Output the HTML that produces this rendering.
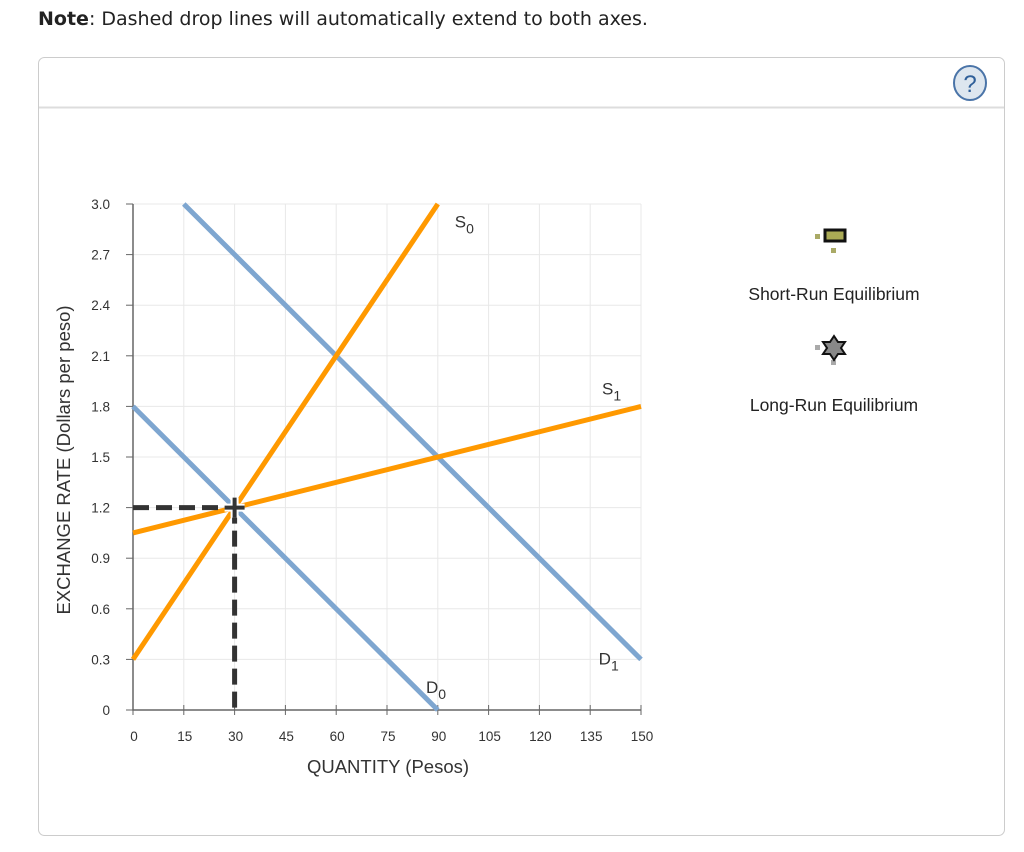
<!DOCTYPE html>
<html><head><meta charset="utf-8"><style>
body{margin:0;background:#fff;font-family:"Liberation Sans",sans-serif;}
svg{display:block}
</style></head><body>
<svg width="1024" height="852" viewBox="0 0 1024 852" xmlns="http://www.w3.org/2000/svg" font-family="Liberation Sans, sans-serif">
<text x="38" y="25" font-size="19" fill="#222" font-family="DejaVu Sans, sans-serif"><tspan font-weight="bold">Note</tspan>: Dashed drop lines will automatically extend to both axes.</text>
<rect x="38.5" y="57.5" width="966" height="778" rx="6" fill="#fff" stroke="#ccc"/>
<line x1="39" y1="107.5" x2="1004" y2="107.5" stroke="#ddd" stroke-width="2"/>
<g>
<ellipse cx="970" cy="83" rx="16" ry="17" fill="#dde6ef" stroke="#4a74a8" stroke-width="2"/>
<text x="970" y="92" font-size="24" text-anchor="middle" fill="#2f5f99">?</text>
</g>
<g id="grid"></g>
<g id="axes"></g>
<g id="lines"></g>
<g id="eq"></g>
<text x="388" y="773" font-size="18.5" text-anchor="middle" fill="#333">QUANTITY (Pesos)</text>
<text transform="translate(70,460) rotate(-90)" font-size="18.5" text-anchor="middle" fill="#333">EXCHANGE RATE (Dollars per peso)</text>
<g>
<rect x="815" y="234" width="5" height="5" fill="#aaaa66"/>
<rect x="831" y="248" width="5" height="5" fill="#aaaa66"/>
<rect x="825" y="230" width="20" height="11" fill="#aaaa55" stroke="#111" stroke-width="3"/>
<text x="834" y="300" font-size="17.5" text-anchor="middle" fill="#222">Short-Run Equilibrium</text>
</g>
<g>
<rect x="815" y="345" width="5" height="5" fill="#aaa"/>
<rect x="831" y="360" width="5" height="5" fill="#aaa"/>
<polygon points="834,336 838,342 845,342 841,348 845,354 838,354 834,360 830,354 823,354 827,348 823,342 830,342" fill="#888" stroke="#111" stroke-width="2"/>
<text x="834" y="411" font-size="17.5" text-anchor="middle" fill="#222">Long-Run Equilibrium</text>
</g>
</svg>
<script>
const xTicks=[0,15,30,45,60,75,90,105,120,135,150];
const yTicks=[0,0.3,0.6,0.9,1.2,1.5,1.8,2.1,2.4,2.7,3.0];
const yLabels=["0","0.3","0.6","0.9","1.2","1.5","1.8","2.1","2.4","2.7","3.0"];
const curveNames=["D0","D1","S0","S1"];
const curveX=[[0,90],[15,150],[0,90],[0,150]];
const curveY=[[1.8,0],[3.0,0.3],[0.3,3.0],[1.05,1.8]];
const curveLabelX=[86.5,137.5,95,138.5];
const curveLabelY=[0.1,0.27,2.86,1.87];
const eqX=[30];
const eqY=[1.2];
const NS="http://www.w3.org/2000/svg";
const X0=133,X1=641,Y0=710,Y1=204;
const sx=v=>X0+(X1-X0)*v/150, sy=v=>Y0-(Y0-Y1)*v/3;
function mk(t,a,p){const e=document.createElementNS(NS,t);for(const k in a)e.setAttribute(k,a[k]);p.appendChild(e);return e;}
const grid=document.getElementById('grid'),axes=document.getElementById('axes'),lines=document.getElementById('lines'),eq=document.getElementById('eq');
xTicks.forEach((t,i)=>{
 if(i>0){const g=mk('line',{x1:sx(t),x2:sx(t),y1:Y1,y2:Y0,stroke:'#e8e8e8','stroke-width':1},grid);
 
 }
 const tk=mk('line',{x1:sx(t),x2:sx(t),y1:Y0-5,y2:Y0+5,stroke:'#666'},axes);
 
 
 const l=mk('text',{x:sx(t)+1,y:Y0+31,'font-size':13.5,'text-anchor':'middle',fill:'#333'},axes);l.textContent=t;
 
 
});
yTicks.forEach((t,i)=>{
 if(i>0){const g=mk('line',{x1:X0,x2:X1,y1:sy(t),y2:sy(t),stroke:'#e8e8e8','stroke-width':1},grid);
 
 }
 const tk=mk('line',{x1:X0-7,x2:X0,y1:sy(t),y2:sy(t),stroke:'#666'},axes);
 
 
 const l=mk('text',{x:X0-23,y:sy(t)+5,'font-size':13.5,'text-anchor':'end',fill:'#333'},axes);l.textContent=yLabels[i];
 
 
});
const ax=mk('path',{d:`M${X0},${Y1} V${Y0} H${X1}`,fill:'none',stroke:'#666','stroke-width':1.5},axes);


curveNames.forEach((n,i)=>{
 const col=n[0]==='D'?'#7ea6d0':'#ff9900';
 const l=mk('line',{x1:sx(curveX[i][0]),y1:sy(curveY[i][0]),x2:sx(curveX[i][1]),y2:sy(curveY[i][1]),stroke:col,'stroke-width':5},lines);
 
 
 const t=mk('text',{x:sx(curveLabelX[i]),y:sy(curveLabelY[i]),'font-size':17,fill:'#333'},lines);
 t.innerHTML=n[0]+'<tspan dy="6" font-size="14">'+n[1]+'</tspan>';
 
 
});
eqX.forEach((v,i)=>{
 const px=sx(v),py=sy(eqY[i]);
 const h=mk('line',{x1:X0,y1:py,x2:px,y2:py,stroke:'#333','stroke-width':5,'stroke-dasharray':'16,7'},eq);
 
 
 const vl=mk('line',{x1:px,y1:py,x2:px,y2:Y0,stroke:'#333','stroke-width':5,'stroke-dasharray':'16,7'},eq);
 
 
 mk('path',{d:`M${px-10},${py}H${px+10}M${px},${py-10}V${py+10}`,stroke:'#fff','stroke-width':8},eq);
 const c=mk('path',{d:`M${px-10},${py}H${px+10}M${px},${py-10}V${py+10}`,stroke:'#333','stroke-width':4},eq);
 
 
});
</script>
</body></html>
